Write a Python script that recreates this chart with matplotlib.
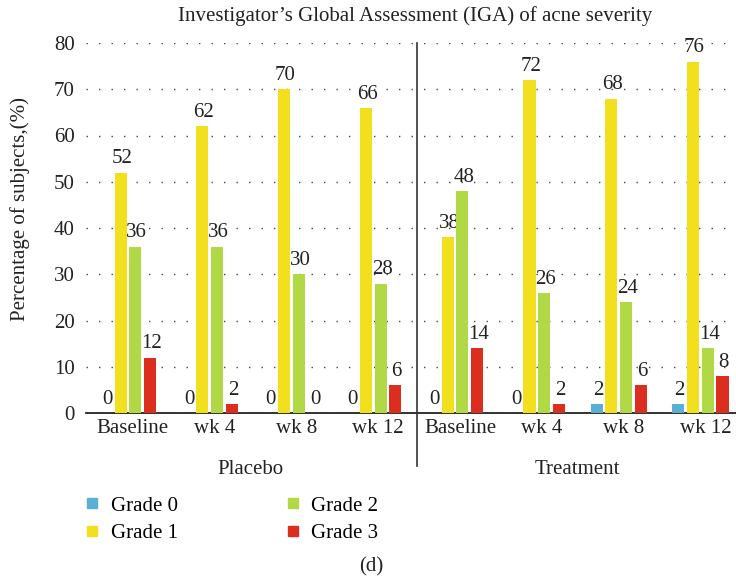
import numpy as np
import matplotlib.pyplot as plt
from matplotlib.lines import Line2D

plt.rcParams['font.family'] = ['Liberation Serif', 'DejaVu Serif']

# data
periods = ['Baseline', 'wk 4', 'wk 8', 'wk 12', 'Baseline', 'wk 4', 'wk 8', 'wk 12']
arms = ['Placebo', 'Treatment']
grades = ['Grade 0', 'Grade 1', 'Grade 2', 'Grade 3']
grade0 = [0, 0, 0, 0, 0, 0, 2, 2]
grade1 = [52, 62, 70, 66, 38, 72, 68, 76]
grade2 = [36, 36, 30, 28, 48, 26, 24, 14]
grade3 = [12, 2, 0, 6, 14, 2, 6, 8]
colors = ['#5aafd6', '#f2e01f', '#b1d845', '#dc2e1e']

fs = 15
fig = plt.figure(figsize=(7.36, 5.79), dpi=100)
ax = fig.add_axes([86/736, 1 - 413/579, 650/736, 370/579])

x = np.arange(len(periods))
step = 0.18
width = 0.147
series = [grade0, grade1, grade2, grade3]
for i, vals in enumerate(series):
    off = (i - 1.5) * step
    bars = ax.bar(x + off, vals, width, color=colors[i], zorder=3)
    for b, v in zip(bars, vals):
        ax.annotate(str(v), (b.get_x() + b.get_width() / 2, v),
                    xytext=(1, 3), textcoords='offset points',
                    ha='center', va='bottom', fontsize=fs, color='#222222')

ax.set_xlim(-0.513, 7.435)
ax.set_ylim(0, 80)
ax.set_yticks(range(0, 81, 10))
ax.set_xticks(x + 0.06)
ax.set_xticklabels(periods)
ax.tick_params(axis='both', length=0, labelsize=fs, colors='#222222')
ax.tick_params(axis='y', pad=8)
ax.tick_params(axis='x', pad=4)
for s in ['top', 'left', 'right']:
    ax.spines[s].set_visible(False)
ax.spines['bottom'].set_linewidth(1.3)
ax.spines['bottom'].set_color('#222222')
ax.yaxis.grid(True, linestyle=(0, (1, 8)), linewidth=1.0, color='#444444', zorder=0)
ax.set_axisbelow(True)

# divider between the two arms
ax.plot([3.54, 3.54], [80, -11.4], color='#333333', lw=1.2, clip_on=False, zorder=4)

# arm labels
for k, name in enumerate(arms):
    ax.text(1.5 + 4 * k, -12.3, name, ha='center', va='center', fontsize=fs,
            color='#222222', transform=ax.transData)

fig.text(415/736, 1 - 16/579, "Investigator\u2019s Global Assessment (IGA) of acne severity",
         ha='center', va='center', fontsize=fs, color='#222222')
fig.text(20/736, 1 - 209/579, 'Percentage of subjects,(%)', rotation=90,
         ha='center', va='center', fontsize=fs, color='#222222')
fig.text(371/736, 1 - 567/579, '(d)', ha='center', va='center', fontsize=fs, color='#222222')

handles = [Line2D([], [], marker='s', linestyle='none', markersize=7,
                  markerfacecolor=c, markeredgecolor=c) for c in colors]
fig.legend(handles, grades, loc='upper left', bbox_to_anchor=(84/736, 1 - 496/579),
           ncol=2, frameon=False, fontsize=fs, handlelength=0.8, handletextpad=0.5,
           columnspacing=5.1, labelspacing=0.4, borderaxespad=0, borderpad=0)

fig.savefig('out.png', dpi=100)
